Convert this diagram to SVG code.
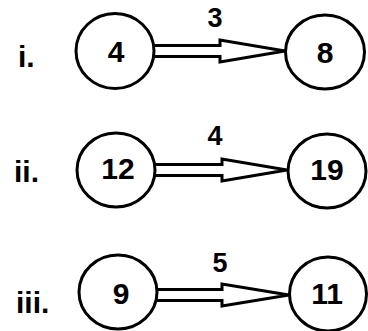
<svg xmlns="http://www.w3.org/2000/svg" width="368" height="331" viewBox="0 0 368 331">
<style>
.c{fill:#fff;stroke:#000;stroke-width:3}
.a{fill:#fff;stroke:#000;stroke-width:3;stroke-linejoin:miter}
.t{font-family:"Liberation Sans",Arial,sans-serif;font-weight:bold;fill:#000;text-anchor:middle}
.n{font-size:30px}
.l{font-size:27px}
.r{font-family:"Liberation Sans",Arial,sans-serif;font-weight:bold;font-size:30px;fill:#000}
</style>
<rect width="368" height="331" fill="#fff"/>
<g id="connectors">
<polygon class="a" points="148,45.5 220,45.5 220,40 285,51 220,62 220,56.5 148,56.5"/>
<polygon class="a" points="148,164.5 222,164.5 222,159 287,170 222,181 222,175.5 148,175.5"/>
<polygon class="a" points="150,289.5 222,289.5 222,284 289,295 222,306 222,300.5 150,300.5"/>
</g>
<g id="labels">
<text class="t l" x="215" y="27">3</text>
<text class="t l" x="215" y="145">4</text>
<text class="t l" x="220" y="272">5</text>
<text class="r" x="18" y="67">i.</text>
<text class="r" x="14" y="182">ii.</text>
<text class="r" x="16" y="313">iii.</text>
</g>
<g id="n4"><ellipse class="c" cx="115" cy="51" rx="39" ry="37.5"/><text class="t n" x="116" y="62">4</text></g>
<g id="n8"><ellipse class="c" cx="325" cy="52" rx="39.5" ry="37"/><text class="t n" x="325" y="63">8</text></g>
<g id="n12"><ellipse class="c" cx="116" cy="170" rx="39" ry="37"/><text class="t n" x="118" y="179">12</text></g>
<g id="n19"><ellipse class="c" cx="327" cy="171" rx="39" ry="37"/><text class="t n" x="327" y="180">19</text></g>
<g id="n9"><ellipse class="c" cx="118" cy="292" rx="39" ry="37"/><text class="t n" x="121" y="304">9</text></g>
<g id="n11"><ellipse class="c" cx="328" cy="294" rx="38.5" ry="37"/><text class="t n" x="327" y="304">11</text></g>
</svg>
